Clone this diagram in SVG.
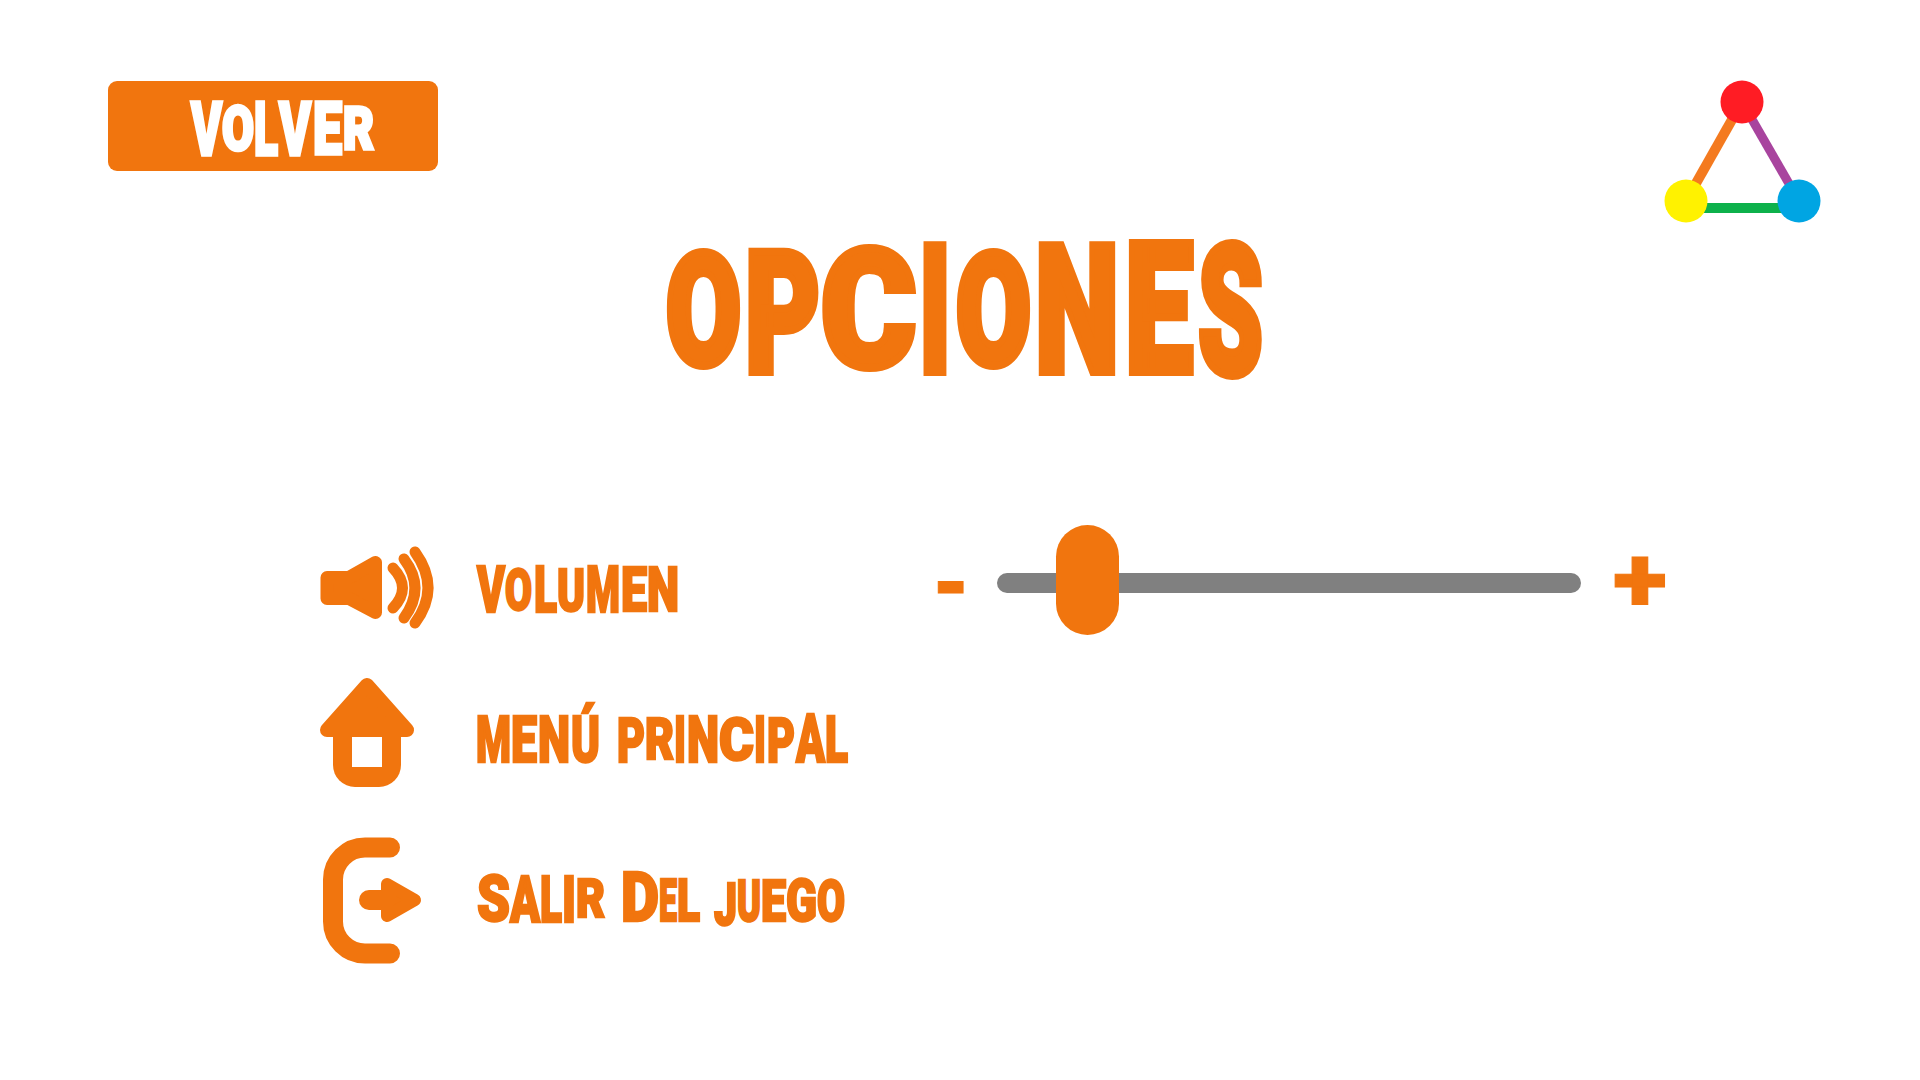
<svg xmlns="http://www.w3.org/2000/svg" width="1920" height="1080" viewBox="0 0 1920 1080">
<style>
.t{font-family:Roboto,"Liberation Sans",sans-serif;font-weight:900;fill:#f1750e;stroke:#f1750e;stroke-linejoin:miter}
.o{fill:#f1750e}
.r{fill:#f1750e;stroke:#f1750e;stroke-linejoin:round}
.a{fill:none;stroke:#f1750e;stroke-width:11;stroke-linecap:round}
</style>
<rect width="1920" height="1080" fill="#fff"/>
<g id="volver">
<rect x="108" y="81" width="330" height="90" rx="9" class="o"/>
<text class="t" style="fill:#fff;stroke:#fff" stroke-width="3.500" transform="scale(.5 1)"><tspan x="382" y="155.500" font-size="74" textLength="62" lengthAdjust="spacingAndGlyphs">V</tspan><tspan x="444" y="150.500" font-size="62" textLength="64" lengthAdjust="spacingAndGlyphs">O</tspan><tspan x="508" y="155.500" font-size="74" textLength="48" lengthAdjust="spacingAndGlyphs">L</tspan><tspan x="558" y="155.500" font-size="74" textLength="64" lengthAdjust="spacingAndGlyphs">V</tspan><tspan x="626" y="154.500" font-size="72" textLength="58" lengthAdjust="spacingAndGlyphs">E</tspan><tspan x="686" y="149.500" font-size="60" textLength="62" lengthAdjust="spacingAndGlyphs">R</tspan></text>
</g>
<g id="logo">
<line x1="1686" y1="201" x2="1742" y2="102" stroke="#f47a1f" stroke-width="10"/>
<line x1="1742" y1="102" x2="1799" y2="201" stroke="#a8449e" stroke-width="9"/>
<line x1="1686" y1="208" x2="1799" y2="208" stroke="#0db14b" stroke-width="10"/>
<circle cx="1742" cy="102" r="21.500" fill="#ff1c24"/>
<circle cx="1686" cy="201" r="21.500" fill="#fff200"/>
<circle cx="1799" cy="201" r="21.500" fill="#00a5e3"/>
</g>
<g id="title">
<text class="t" stroke-width="8" transform="scale(.5 1)"><tspan x="1332" y="364" font-size="155" textLength="150" lengthAdjust="spacingAndGlyphs">O</tspan><tspan x="1490" y="372" font-size="168" textLength="150" lengthAdjust="spacingAndGlyphs">P</tspan><tspan x="1642" y="366" font-size="163" textLength="190" lengthAdjust="spacingAndGlyphs">C</tspan><tspan x="1838" y="372" font-size="178" textLength="64" lengthAdjust="spacingAndGlyphs">I</tspan><tspan x="1912" y="364" font-size="155" textLength="150" lengthAdjust="spacingAndGlyphs">O</tspan><tspan x="2070" y="372" font-size="178" textLength="168" lengthAdjust="spacingAndGlyphs">N</tspan><tspan x="2250" y="372" font-size="181" textLength="136" lengthAdjust="spacingAndGlyphs">E</tspan><tspan x="2396" y="374" font-size="181" textLength="130" lengthAdjust="spacingAndGlyphs">S</tspan></text>
</g>
<g id="volumen">
<path class="r" stroke-width="13" d="M327 577.500H349L375.500 562.500V612.500L349 598.500H327Z"/>
<path class="a" d="M393 568Q412 588 393 608"/>
<path class="a" d="M404 559Q426 588 404 618"/>
<path class="a" d="M415 552Q441 588 415 623"/>
<text class="t" stroke-width="2.500" transform="scale(.5 1)"><tspan x="954" y="612" font-size="64" textLength="56" lengthAdjust="spacingAndGlyphs">V</tspan><tspan x="1010" y="610" font-size="58" textLength="54" lengthAdjust="spacingAndGlyphs">O</tspan><tspan x="1068" y="612" font-size="64" textLength="46" lengthAdjust="spacingAndGlyphs">L</tspan><tspan x="1114" y="611" font-size="60" textLength="56" lengthAdjust="spacingAndGlyphs">U</tspan><tspan x="1172" y="612" font-size="64" textLength="68" lengthAdjust="spacingAndGlyphs">M</tspan><tspan x="1242" y="611" font-size="62" textLength="52" lengthAdjust="spacingAndGlyphs">E</tspan><tspan x="1294" y="611" font-size="62" textLength="64" lengthAdjust="spacingAndGlyphs">N</tspan></text>
</g>
<g id="menu">
<path class="r" stroke-width="14" d="M367 685L407 730H327Z"/>
<path class="o" d="M333 730H401V765A22 22 0 0 1 379 787H355A22 22 0 0 1 333 765Z"/>
<rect x="352" y="737" width="30" height="30" fill="#fff"/>
<text class="t" stroke-width="2.500" transform="scale(.5 1)"><tspan x="952" y="762" font-size="64" textLength="70" lengthAdjust="spacingAndGlyphs">M</tspan><tspan x="1022" y="762" font-size="64" textLength="52" lengthAdjust="spacingAndGlyphs">E</tspan><tspan x="1076" y="762" font-size="64" textLength="64" lengthAdjust="spacingAndGlyphs">N</tspan><tspan x="1142" y="762" font-size="64" textLength="58" lengthAdjust="spacingAndGlyphs">Ú</tspan> <tspan x="1234" y="762" font-size="62" textLength="56" lengthAdjust="spacingAndGlyphs">P</tspan><tspan x="1290" y="759" font-size="58" textLength="58" lengthAdjust="spacingAndGlyphs">R</tspan><tspan x="1348" y="762" font-size="64" textLength="24" lengthAdjust="spacingAndGlyphs">I</tspan><tspan x="1374" y="762" font-size="64" textLength="64" lengthAdjust="spacingAndGlyphs">N</tspan><tspan x="1438" y="760" font-size="60" textLength="70" lengthAdjust="spacingAndGlyphs">C</tspan><tspan x="1508" y="762" font-size="64" textLength="24" lengthAdjust="spacingAndGlyphs">I</tspan><tspan x="1534" y="762" font-size="62" textLength="56" lengthAdjust="spacingAndGlyphs">P</tspan><tspan x="1592" y="762" font-size="66" textLength="58" lengthAdjust="spacingAndGlyphs">A</tspan><tspan x="1650" y="762" font-size="64" textLength="46" lengthAdjust="spacingAndGlyphs">L</tspan></text>
</g>
<g id="salir">
<path d="M390 847.500H365A32 32 0 0 0 333 879.500V921.500A32 32 0 0 0 365 953.500H390" fill="none" stroke="#f1750e" stroke-width="20" stroke-linecap="round"/>
<path d="M369 900H390" stroke="#f1750e" stroke-width="20" stroke-linecap="round"/>
<path class="r" stroke-width="12" d="M387 884L415 900L387 916Z"/>
<text class="t" stroke-width="2.500" transform="scale(.5 1)"><tspan x="954" y="921" font-size="64" textLength="66" lengthAdjust="spacingAndGlyphs">S</tspan><tspan x="1020" y="922" font-size="64" textLength="60" lengthAdjust="spacingAndGlyphs">A</tspan><tspan x="1080" y="922" font-size="64" textLength="44" lengthAdjust="spacingAndGlyphs">L</tspan><tspan x="1124" y="922" font-size="64" textLength="28" lengthAdjust="spacingAndGlyphs">I</tspan><tspan x="1152" y="917" font-size="54" textLength="58" lengthAdjust="spacingAndGlyphs">R</tspan> <tspan x="1242" y="921" font-size="68" textLength="76" lengthAdjust="spacingAndGlyphs">D</tspan><tspan x="1318" y="921" font-size="60" textLength="36" lengthAdjust="spacingAndGlyphs">E</tspan><tspan x="1354" y="921" font-size="60" textLength="46" lengthAdjust="spacingAndGlyphs">L</tspan> <tspan x="1428" y="925" font-size="60" textLength="46" lengthAdjust="spacingAndGlyphs">J</tspan><tspan x="1474" y="921" font-size="58" textLength="48" lengthAdjust="spacingAndGlyphs">U</tspan><tspan x="1522" y="921" font-size="58" textLength="50" lengthAdjust="spacingAndGlyphs">E</tspan><tspan x="1572" y="921" font-size="60" textLength="62" lengthAdjust="spacingAndGlyphs">G</tspan><tspan x="1634" y="921" font-size="58" textLength="56" lengthAdjust="spacingAndGlyphs">O</tspan></text>
</g>
<g id="slider">
<rect x="997" y="573" width="584" height="20" rx="10" fill="#808080"/>
<rect x="1056" y="525" width="63" height="110" rx="31.500" class="o"/>
<text class="t" stroke-width="1" transform="scale(.5 1)"><tspan x="1864" y="615.500" font-size="90" textLength="76" lengthAdjust="spacingAndGlyphs">-</tspan></text>
<text class="t" stroke-width="1" transform="scale(.5 1)"><tspan x="3226" y="611" font-size="90" textLength="108" lengthAdjust="spacingAndGlyphs">+</tspan></text>
</g>
</svg>
